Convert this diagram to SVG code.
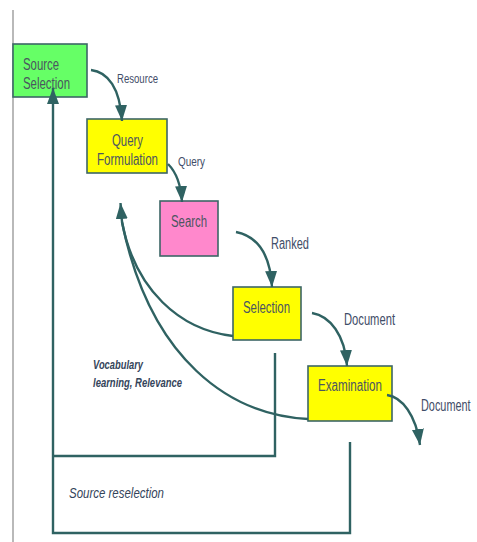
<svg xmlns="http://www.w3.org/2000/svg" width="477" height="542" viewBox="0 0 477 542">
<style>
.box{stroke:#3d6666;stroke-width:1.6}
.bt{font-family:"Liberation Sans",Arial,sans-serif;font-size:16px;fill:#4b5560}
.lb{font-family:"Liberation Sans",Arial,sans-serif;font-size:16px;fill:#3f4d68}
.it{font-family:"Liberation Sans",Arial,sans-serif;fill:#34445a;font-style:italic}
.ln{fill:none;stroke:#2f6262;stroke-width:2.4}
</style>
<defs>
<marker id="ah" markerUnits="userSpaceOnUse" markerWidth="18" markerHeight="14" refX="16" refY="6" orient="auto">
<path d="M0,0 L16,6 L0,12 z" fill="#2f6262"/>
</marker>
</defs>
<rect width="477" height="542" fill="#ffffff"/>
<line x1="13" y1="10" x2="13" y2="542" stroke="#8a8a8a" stroke-width="1.2"/>
<g id="source-selection">
<rect class="box" x="13" y="44" width="74" height="53" fill="#66ff66"/>
<text class="bt" x="23" y="70" textLength="36" lengthAdjust="spacingAndGlyphs">Source</text>
<text class="bt" x="23" y="89" textLength="47" lengthAdjust="spacingAndGlyphs">Selection</text>
</g>
<g id="query-formulation">
<rect class="box" x="87" y="119" width="80" height="54" fill="#ffff00"/>
<text class="bt" x="112" y="146" textLength="31" lengthAdjust="spacingAndGlyphs">Query</text>
<text class="bt" x="97" y="165" textLength="61" lengthAdjust="spacingAndGlyphs">Formulation</text>
</g>
<g id="search">
<rect class="box" x="160" y="201" width="58" height="55" fill="#ff88cc"/>
<text class="bt" x="171" y="227" textLength="36" lengthAdjust="spacingAndGlyphs">Search</text>
</g>
<g id="selection">
<rect class="box" x="233" y="287" width="68" height="53" fill="#ffff00"/>
<text class="bt" x="243" y="313" textLength="47" lengthAdjust="spacingAndGlyphs">Selection</text>
</g>
<g id="examination">
<rect class="box" x="308" y="366" width="84" height="55" fill="#ffff00"/>
<text class="bt" x="318" y="391" textLength="64" lengthAdjust="spacingAndGlyphs">Examination</text>
</g>
<g id="connectors">
<path class="ln" d="M91,70 C108,72 120,88 122,121" marker-end="url(#ah)"/>
<path class="ln" d="M168,164 C176,172 181,185 182,202" marker-end="url(#ah)"/>
<path class="ln" d="M236,232 C256,236 270,252 272,287" marker-end="url(#ah)"/>
<path class="ln" d="M312,313 C330,316 345,335 347,366" marker-end="url(#ah)"/>
<path class="ln" d="M387,395 C402,397 416,415 420,445" marker-end="url(#ah)"/>
<path class="ln" d="M308,419 C230,415 150,360 122,222"/>
<path class="ln" d="M233,336 C180,330 135,290 122,222"/>
<path class="ln" d="M122,222 L120.5,203" marker-end="url(#ah)"/>
<path class="ln" d="M275,353 V456 H53"/>
<path class="ln" d="M350,442 V533 H53 V88" marker-end="url(#ah)"/>
</g>
<text class="lb" x="117" y="83" style="font-size:12.5px" textLength="41" lengthAdjust="spacingAndGlyphs">Resource</text>
<text class="lb" x="178" y="166" style="font-size:13px" textLength="27" lengthAdjust="spacingAndGlyphs">Query</text>
<text class="lb" x="271" y="249" textLength="38" lengthAdjust="spacingAndGlyphs">Ranked</text>
<text class="lb" x="344" y="325" textLength="51" lengthAdjust="spacingAndGlyphs">Document</text>
<text class="lb" x="0" y="0" transform="translate(421,411) scale(0.68,1)">Document</text>
<text class="it" x="93" y="369" style="font-size:13.5px;font-weight:bold" textLength="50" lengthAdjust="spacingAndGlyphs">Vocabulary</text>
<text class="it" x="93" y="387" style="font-size:13.5px;font-weight:bold" textLength="89" lengthAdjust="spacingAndGlyphs">learning, Relevance</text>
<text class="it" x="69" y="498" style="font-size:15px" textLength="95" lengthAdjust="spacingAndGlyphs">Source reselection</text>
</svg>
